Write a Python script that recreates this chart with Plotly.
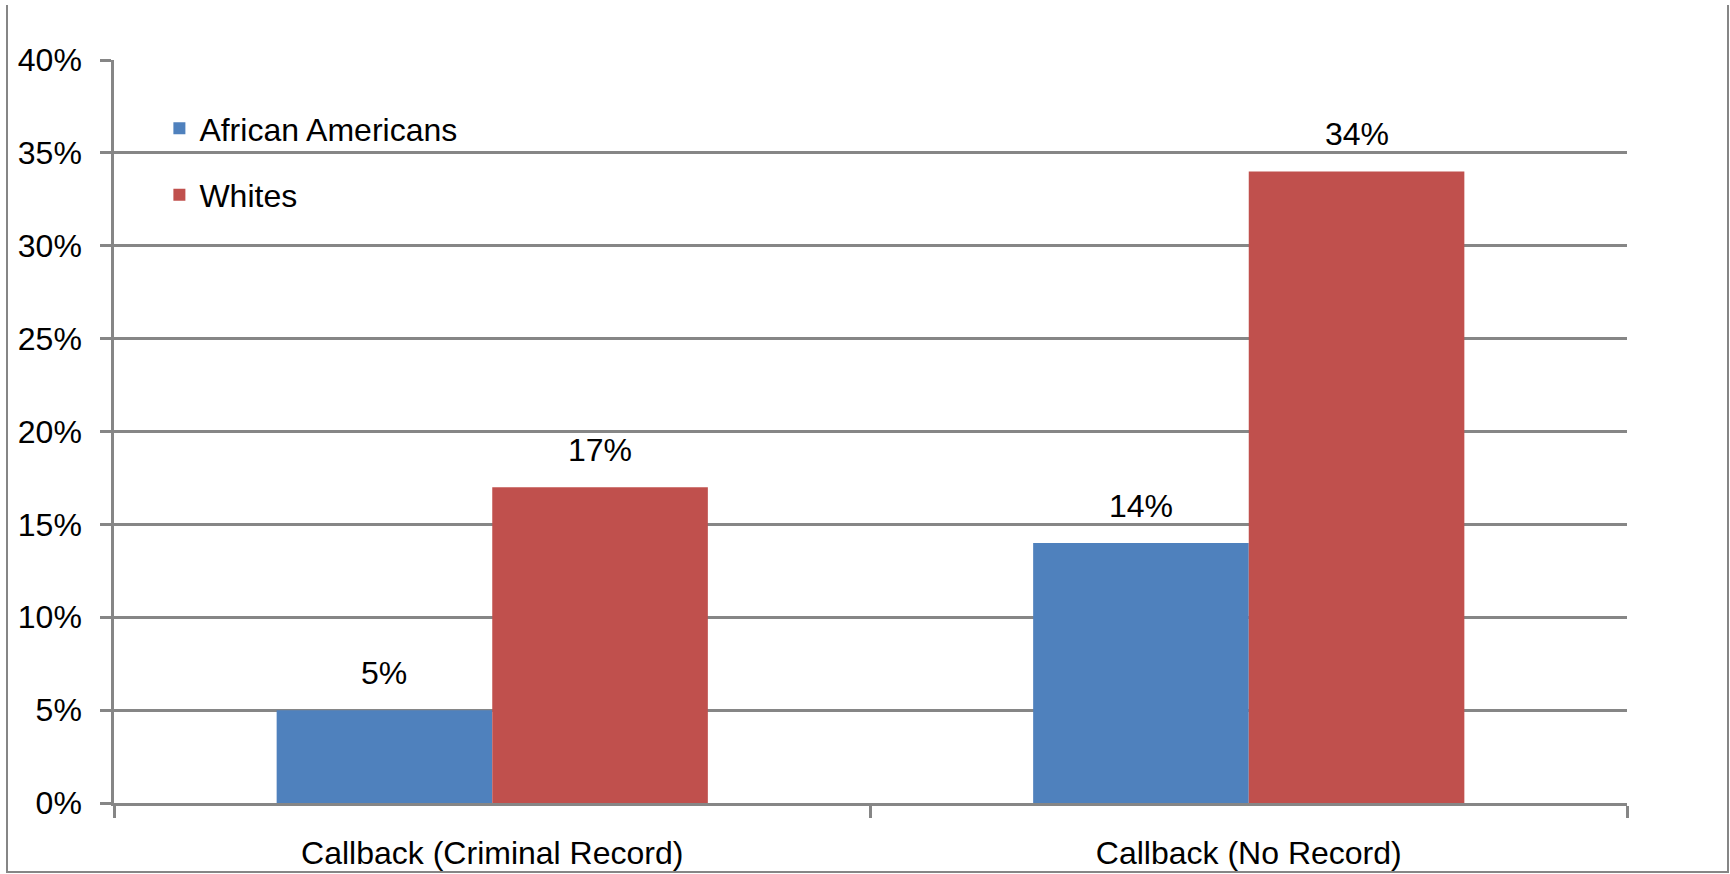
import plotly.graph_objects as go

categories = ["Callback (Criminal Record)", "Callback (No Record)"]
series_names = ["African Americans", "Whites"]
african_americans = [0.05, 0.14]
whites = [0.17, 0.34]
y_tick_vals = [0, 0.05, 0.10, 0.15, 0.20, 0.25, 0.30, 0.35, 0.40]
y_tick_text = ["0%", "5%", "10%", "15%", "20%", "25%", "30%", "35%", "40%"]

W, H = 1730, 874
ML, MR, MT, MB = 114, 103, 60, 71
BARGAP = 0.43
FONT = "Liberation Sans, Arial, sans-serif"
FS = 32
GRID = "#868686"
colors = ["#4F81BD", "#C0504D"]

fig = go.Figure()
for i, (name, vals) in enumerate(zip(series_names, [african_americans, whites])):
    fig.add_trace(go.Bar(
        x=categories, y=vals, name=name, marker_color=colors[i],
        marker_line_width=0, legendgroup=name,
    ))

# data labels
annotations = []
half = (1 - BARGAP) / 4
for i, vals in enumerate([african_americans, whites]):
    for j, v in enumerate(vals):
        annotations.append(dict(
            x=j + (-half if i == 0 else half), y=v, xref="x", yref="y",
            text=f"{round(v*100)}%", showarrow=False, yanchor="bottom",
            yshift=17, font=dict(size=FS, color="black", family=FONT),
        ))

pw = W - ML - MR
ph = H - MT - MB
# outer frame (left, bottom, right sides) in paper units
fx0 = -(ML - 7) / pw
fx1 = 1 + (MR - 2) / pw
fy0 = -(MB - 2) / ph
fy1 = 1 + (MT - 5) / ph
frame_path = f"M{fx0},{fy1} L{fx0},{fy0} L{fx1},{fy0} L{fx1},{fy1}"

fig.update_layout(
    width=W, height=H,
    margin=dict(l=ML, r=MR, t=MT, b=MB, autoexpand=False),
    paper_bgcolor="white", plot_bgcolor="white",
    barmode="group", bargap=BARGAP, bargroupgap=0,
    font=dict(family=FONT, size=FS, color="black"),
    showlegend=True,
    legend=dict(x=0.030, y=0.945, xanchor="left", yanchor="top",
                traceorder="grouped", tracegroupgap=22,
                font=dict(size=FS, family=FONT), bgcolor="rgba(0,0,0,0)"),
    annotations=annotations,
    shapes=[dict(type="path", xref="paper", yref="paper", path=frame_path,
                 line=dict(color=GRID, width=2), layer="below")],
)
fig.update_yaxes(
    range=[0, 0.4], tickvals=y_tick_vals, ticktext=y_tick_text,
    showgrid=True, gridcolor=GRID, gridwidth=2.5,
    showline=True, linecolor=GRID, linewidth=2.5,
    ticks="outside", ticklen=11, tickcolor=GRID, tickwidth=2.5,
    ticklabelstandoff=12, zeroline=False, automargin=False,
    tickfont=dict(size=FS, family=FONT),
)
fig.update_xaxes(
    showline=True, linecolor=GRID, linewidth=2.5,
    ticks="outside", tickson="boundaries", ticklen=12, tickcolor=GRID, tickwidth=2.5,
    ticklabelstandoff=20, showgrid=False, automargin=False,
    tickfont=dict(size=FS, family=FONT),
)
fig.write_html("out.html", config={"displayModeBar": False},
               post_script="document.body.style.margin='0';document.body.style.overflow='hidden';")
